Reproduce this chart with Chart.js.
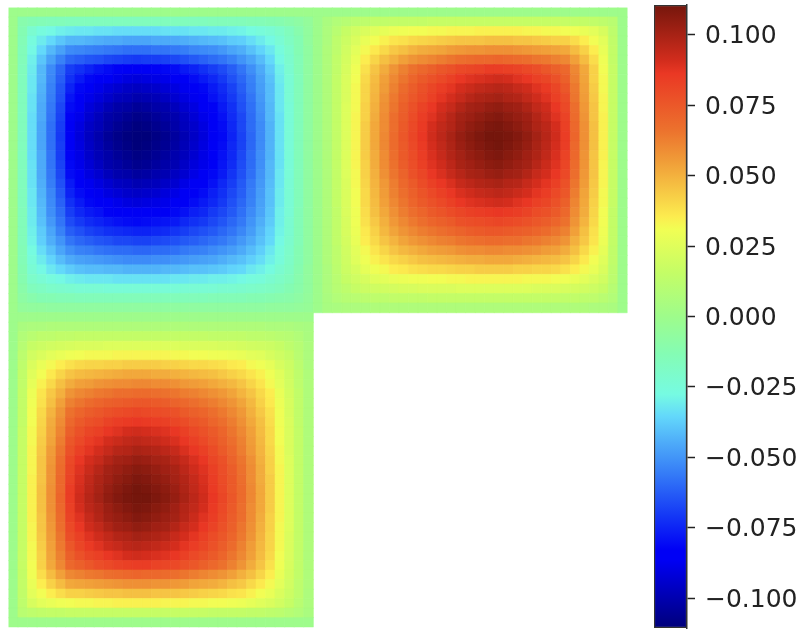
<!DOCTYPE html>
<html>
<head>
<meta charset="utf-8">
<title>L-shaped field heatmap</title>
<style>
html,body{margin:0;padding:0;background:#fff;width:810px;height:640px;overflow:hidden}
canvas{position:absolute;top:0;filter:blur(0.7px)}
#field{left:0}
#bar{left:640px}
</style>
<script src="https://cdn.jsdelivr.net/npm/chart.js@4"></script>
</head>
<body>
<canvas id="field" width="640" height="640"></canvas>
<canvas id="bar" width="170" height="640"></canvas>
<script>
// Magnitudes of one lobe, in thousandths (32 x 32 cells).
const lobeMagnitude = [
[0,0,0,0,0,0,0,0,0,0,0,0,0,0,0,0,0,0,0,0,0,0,0,0,0,0,0,0,0,0,0,0],
[0,11,13,14,15,15,16,16,16,16,16,16,16,16,16,16,16,16,16,16,16,15,15,15,15,14,14,13,12,10,8,5],
[0,13,22,26,28,30,31,32,32,33,33,34,34,34,34,34,33,33,33,32,32,31,31,30,29,27,25,23,20,16,11,6],
[0,14,26,31,35,39,42,42,43,44,45,45,46,46,46,45,45,45,44,43,42,41,40,38,37,34,31,28,23,18,13,6],
[0,15,28,35,42,47,52,53,54,55,56,57,58,58,58,57,57,56,55,53,52,51,49,46,44,40,36,32,26,20,13,7],
[0,15,30,39,47,54,60,62,64,65,67,68,69,70,69,69,68,67,65,63,61,59,57,54,50,46,41,35,28,21,14,7],
[0,16,31,42,52,60,69,72,75,78,80,82,83,84,84,82,81,80,77,75,72,69,66,62,57,51,45,38,30,22,14,7],
[0,16,32,42,53,62,72,77,81,83,86,88,90,91,90,89,88,86,83,80,77,74,70,65,60,54,47,40,31,23,15,7],
[0,16,32,43,54,64,75,81,85,88,91,93,95,96,95,94,92,90,87,84,81,77,73,68,62,55,48,41,32,23,15,7],
[0,16,33,44,55,65,78,83,88,91,94,97,98,100,99,98,96,93,90,87,83,79,75,70,64,57,49,41,32,23,15,7],
[0,16,33,45,56,67,80,86,91,94,98,101,102,104,103,101,100,97,93,90,86,82,77,72,65,58,50,42,32,24,15,7],
[0,16,34,45,57,68,82,88,93,97,101,103,105,107,106,104,102,100,96,92,88,84,79,73,67,59,51,42,33,24,15,7],
[0,16,34,46,58,69,83,90,95,98,102,105,107,109,108,106,104,101,97,94,90,85,80,74,67,59,52,43,33,24,15,7],
[0,16,34,46,58,70,84,91,96,100,104,107,109,111,110,108,106,103,99,95,91,86,81,75,68,60,52,43,33,24,15,7],
[0,16,34,46,58,69,84,90,95,99,103,106,108,110,109,107,105,102,98,94,90,85,80,74,68,60,52,43,33,24,15,7],
[0,16,34,45,57,69,82,89,94,98,101,104,106,108,107,105,103,100,97,93,89,84,79,74,67,59,51,43,33,24,15,7],
[0,16,33,45,57,68,81,88,92,96,100,102,104,106,105,103,101,99,95,91,88,83,78,73,66,59,51,42,33,24,15,7],
[0,16,33,45,56,67,80,86,90,93,97,100,101,103,102,100,99,96,93,89,86,81,77,71,65,58,50,42,32,24,15,7],
[0,16,33,44,55,65,77,83,87,90,93,96,97,99,98,97,95,93,89,86,83,79,74,69,63,56,49,41,32,23,15,7],
[0,16,32,43,53,63,75,80,84,87,90,92,94,95,94,93,91,89,86,83,80,76,72,67,62,55,48,40,31,23,15,7],
[0,16,32,42,52,61,72,77,81,83,86,88,90,91,90,89,88,86,83,80,77,74,70,65,60,54,47,40,31,23,15,7],
[0,15,31,41,51,59,69,74,77,79,82,84,85,86,85,84,83,81,79,76,74,70,67,63,58,52,46,39,30,23,14,7],
[0,15,31,40,49,57,66,70,73,75,77,79,80,81,80,79,78,77,74,72,70,67,64,60,56,50,44,38,30,22,14,7],
[0,15,30,38,46,54,62,65,68,70,72,73,74,75,75,74,73,71,69,67,65,63,60,57,53,48,42,36,29,22,14,7],
[0,15,29,37,44,50,57,60,62,64,65,67,67,68,68,67,66,65,63,62,60,58,56,53,49,45,40,35,28,21,14,7],
[0,14,27,34,40,46,51,54,55,57,58,59,59,60,60,59,59,58,56,55,54,52,50,48,45,41,37,32,26,20,13,7],
[0,14,25,31,36,41,45,47,48,49,50,51,52,52,52,51,51,50,49,48,47,46,44,42,40,37,34,30,25,19,13,7],
[0,13,23,28,32,35,38,40,41,41,42,42,43,43,43,43,42,42,41,40,40,39,38,36,35,32,30,27,22,18,12,6],
[0,12,20,23,26,28,30,31,32,32,32,33,33,33,33,33,33,32,32,31,31,30,30,29,28,26,25,22,19,16,11,6],
[0,10,16,18,20,21,22,23,23,23,24,24,24,24,24,24,24,24,23,23,23,23,22,22,21,20,19,18,16,13,10,6],
[0,8,11,13,13,14,14,15,15,15,15,15,15,15,15,15,15,15,15,15,15,14,14,14,14,13,13,12,11,10,8,5],
[0,5,6,6,7,7,7,7,7,7,7,7,7,7,7,7,7,7,7,7,7,7,7,7,7,7,7,6,6,6,5,4]
];
const gridSize = 65;
const colorbarTicks = [0.1,0.075,0.05,0.025,0,-0.025,-0.05,-0.075,-0.1];
const colorbarMin = -0.11065;
const colorbarMax = 0.11065;
const colorLimit = 0.11;
const stopPositions = [0,0.11,0.125,0.18,0.25,0.30,0.34,0.375,0.44,0.5,0.57,0.64,0.66,0.75,0.80,0.89,0.91,1];
const stopColors = [[0,0,122],[0,0,245],[0,0,245],[20,55,245],[54,126,247],[79,174,249],[99,216,251],[118,251,226],[132,252,180],[158,252,139],[196,253,102],[241,254,84],[252,236,79],[240,156,56],[236,113,45],[234,56,36],[211,45,29],[117,22,12]];

function colourAt(v){
  const t = Math.min(1,Math.max(0,(v+colorLimit)/(2*colorLimit)));
  let k = 0;
  while(k < stopPositions.length-2 && t > stopPositions[k+1]) k++;
  const f = (t-stopPositions[k])/(stopPositions[k+1]-stopPositions[k]);
  const a = stopColors[k], b = stopColors[k+1];
  return 'rgb('+Math.round(a[0]+(b[0]-a[0])*f)+','+Math.round(a[1]+(b[1]-a[1])*f)+','+Math.round(a[2]+(b[2]-a[2])*f)+')';
}
function magnitude(i,j){
  return (i<32 && j<32) ? lobeMagnitude[i][j]/1000 : 0;
}
// The field is one lobe with three placements: negative top-left, positive top-right and bottom-left.
const cells = [];
for(let i=0;i<gridSize;i++){
  for(let j=0;j<gridSize;j++){
    if(i>=32 && j>=32) continue;
    let v;
    if(i<32 && j<32) v = -magnitude(i,j);
    else if(i<32) v = magnitude(i,64-j);
    else v = magnitude(64-i,j);
    cells.push({x:j+0.5,y:i+0.5,v:v});
  }
}

Chart.defaults.font.family = '"DejaVu Sans"';
new Chart(document.getElementById('field'),{
  type:'scatter',
  data:{datasets:[{
    data:cells,
    pointStyle:'rect',
    pointRadius:6.9,
    pointHoverRadius:6.9,
    pointBorderWidth:0.6,
    pointBackgroundColor:c=>colourAt(c.raw.v),
    pointBorderColor:c=>colourAt(c.raw.v)
  }]},
  options:{
    responsive:false,animation:false,
    layout:{padding:{left:8.5,right:12.5,top:7.5,bottom:12.7}},
    plugins:{legend:{display:false},tooltip:{enabled:false}},
    scales:{
      x:{type:'linear',min:0,max:gridSize,display:false},
      y:{type:'linear',min:0,max:gridSize,reverse:true,display:false}
    }
  }
});

new Chart(document.getElementById('bar'),{
  type:'bar',
  data:{labels:['colorbar'],datasets:[{
    data:[[colorbarMin,colorbarMax]],
    barPercentage:1,categoryPercentage:1,
    borderColor:'#333',borderWidth:1.5,borderSkipped:false,
    backgroundColor:c=>{
      const area = c.chart.chartArea;
      if(!area) return '#888';
      const g = c.chart.ctx.createLinearGradient(0,area.bottom,0,area.top);
      stopPositions.forEach((p,k)=>g.addColorStop(p,'rgb('+stopColors[k].join(',')+')'));
      return g;
    }
  }]},
  options:{
    responsive:false,animation:false,
    layout:{padding:{left:14,right:0,top:5,bottom:12}},
    plugins:{legend:{display:false},tooltip:{enabled:false}},
    scales:{
      x:{display:false},
      y:{
        position:'right',min:colorbarMin,max:colorbarMax,
        afterBuildTicks:s=>{s.ticks = colorbarTicks.map(v=>({value:v}));},
        afterFit:s=>{s.width = 123;s.paddingTop = 0;s.paddingBottom = 0;},
        border:{display:true,color:'#333',width:1.5},
        grid:{drawOnChartArea:false,drawTicks:true,tickLength:8,tickColor:'#222',tickWidth:1.5},
        ticks:{
          color:'#222',padding:10,labelOffset:2,autoSkip:false,maxRotation:0,
          font:{size:25},
          callback:v=>(v<0?'\u2212':'')+Math.abs(v).toFixed(3)
        }
      }
    }
  }
});
</script>
</body>
</html>
